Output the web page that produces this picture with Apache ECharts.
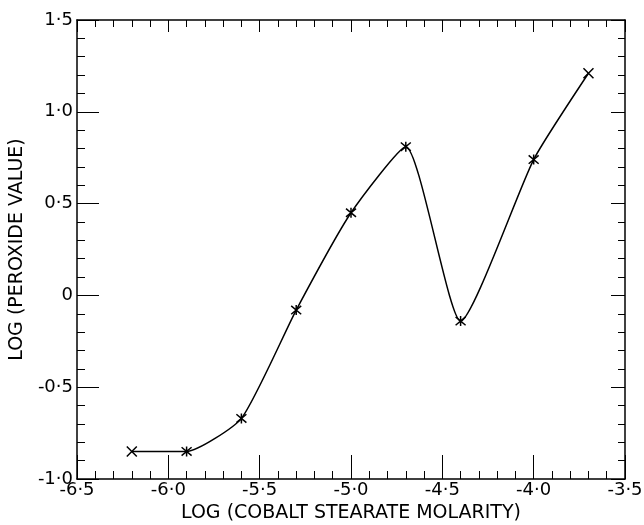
<!DOCTYPE html>
<html>
<head>
    <meta charset="utf-8">
    <script type="text/javascript" src="https://cdn.jsdelivr.net/npm/echarts@6/dist/echarts.min.js"></script>
    <title>Peroxide value vs cobalt stearate</title>
</head>
<body style="margin:0;background:#fff;">
    <div id="container" style="width:644px;height:525px;"></div>
    <script type="text/javascript">
    // data
    var logMolarity = [-6.2, -5.9, -5.6, -5.3, -5.0, -4.7, -4.4, -4.0, -3.7];
    var logPeroxide = [-0.85, -0.85, -0.67, -0.08, 0.45, 0.81, -0.14, 0.74, 1.21];
    // marker type per point: cross at the two ends, asterisk elsewhere
    var markerKind = ['x', '*', '*', '*', '*', '*', '*', '*', 'x'];

    var crossPath = 'path://M0,0L10,10M10,0L0,10';
    var starPath = 'path://M0,0L10,10M10,0L0,10M5,-1L5,11';

    function fmt(v) {
        if (Math.abs(v) < 1e-9) return '0';
        return v.toFixed(1).replace('.', '\u00b7');
    }

    var points = logMolarity.map(function (x, i) {
        return {
            value: [x, logPeroxide[i]],
            symbol: markerKind[i] === 'x' ? crossPath : starPath
        };
    });

    var font = '"DejaVu Sans", sans-serif';
    var axisLine = { show: true, onZero: false, lineStyle: { color: '#000', width: 1.5 } };

    var myChart = echarts.init(document.getElementById('container'));
    var option = {
        backgroundColor: '#fff',
        animation: false,
        grid: { left: 77, right: 19, top: 20, bottom: 46, containLabel: false, outerBoundsMode: 'none' },
        xAxis: [{
            type: 'value', min: -6.5, max: -3.5, interval: 0.5,
            axisLine: axisLine,
            axisTick: { show: true, inside: true, length: 24, lineStyle: { color: '#000', width: 1 } },
            minorTick: { show: true, splitNumber: 5, length: 8, lineStyle: { color: '#000', width: 1 } },
            splitLine: { show: false },
            axisLabel: { formatter: fmt, color: '#000', fontSize: 18, fontFamily: font, margin: 2 },
            name: 'LOG (COBALT STEARATE MOLARITY)',
            nameLocation: 'middle', nameGap: 25,
            nameTextStyle: { color: '#000', fontSize: 19, fontFamily: font }
        }, {
            type: 'value', position: 'top', min: -6.5, max: -3.5, interval: 0.5,
            axisLine: axisLine,
            axisTick: { show: true, inside: true, length: 12, lineStyle: { color: '#000' } },
            minorTick: { show: true, splitNumber: 5, length: 7, lineStyle: { color: '#000' } },
            splitLine: { show: false },
            axisLabel: { show: false }
        }],
        yAxis: [{
            type: 'value', min: -1.0, max: 1.5, interval: 0.5,
            axisLine: axisLine,
            axisTick: { show: true, inside: true, length: 22, lineStyle: { color: '#000', width: 1 } },
            minorTick: { show: true, splitNumber: 5, length: 8, lineStyle: { color: '#000', width: 1 } },
            splitLine: { show: false },
            axisLabel: { formatter: fmt, color: '#000', fontSize: 18, fontFamily: font, margin: 4 },
            name: 'LOG (PEROXIDE VALUE)',
            nameLocation: 'middle', nameGap: 50,
            nameTextStyle: { color: '#000', fontSize: 19, fontFamily: font }
        }, {
            type: 'value', position: 'right', min: -1.0, max: 1.5, interval: 0.5,
            axisLine: axisLine,
            axisTick: { show: true, inside: true, length: 14, lineStyle: { color: '#000' } },
            minorTick: { show: true, splitNumber: 5, length: 7, lineStyle: { color: '#000' } },
            splitLine: { show: false },
            axisLabel: { show: false }
        }],
        series: [{
            type: 'line',
            data: points,
            smooth: 0.18,
            symbolSize: 10,
            lineStyle: { color: '#000', width: 1.5 },
            itemStyle: { color: 'none', borderColor: '#000', borderWidth: 1.5 }
        }]
    };
    myChart.setOption(option);
    </script>
</body>
</html>
